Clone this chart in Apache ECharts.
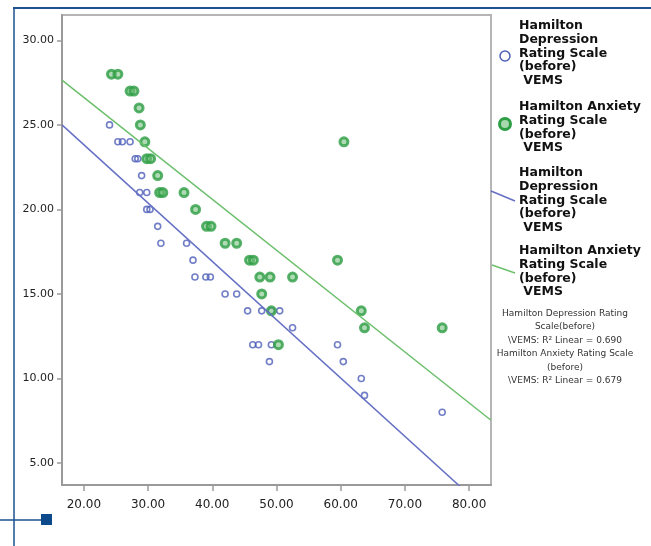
<!DOCTYPE html>
<html>
<head>
<meta charset="utf-8">
<script src="https://cdn.jsdelivr.net/npm/echarts@6/dist/echarts.min.js"></script>
<style>
html,body{margin:0;padding:0;background:#fff;}
#chart{width:651px;height:546px;}
</style>
</head>
<body>
<div id="chart"></div>
<script>
// Tick labels
const xTicks = [20, 30, 40, 50, 60, 70, 80];
const yTicks = [5, 10, 15, 20, 25, 30];

// Hamilton Depression Rating Scale (before) vs VEMS
const depX = [24, 25.3, 26, 27.2, 28, 28.4, 29, 28.7, 29.8, 29.8, 30.3, 31.5, 32, 36, 37, 37.3, 39, 39.7, 42, 43.8, 45.5, 47.7, 49.2, 50.5, 52.5, 46.3, 47.2, 49.2, 48.9, 59.5, 60.4, 63.2, 63.7, 75.8];
const depY = [25, 24, 24, 24, 23, 23, 22, 21, 21, 20, 20, 19, 18, 18, 17, 16, 16, 16, 15, 15, 14, 14, 14, 14, 13, 12, 12, 12, 11, 12, 11, 10, 9, 8];

// Hamilton Anxiety Rating Scale (before) vs VEMS
const anxX = [24.3, 25.3, 27.2, 27.8, 28.6, 28.8, 29.5, 29.8, 30.4, 31.5, 31.8, 32.3, 35.6, 37.4, 39.1, 39.8, 42, 43.8, 45.8, 46.4, 47.4, 49, 52.5, 47.7, 49.2, 50.3, 60.5, 59.5, 63.2, 63.7, 75.8];
const anxY = [28, 28, 27, 27, 26, 25, 24, 23, 23, 22, 21, 21, 21, 20, 19, 19, 18, 18, 17, 17, 16, 16, 16, 15, 14, 12, 24, 17, 14, 13, 13];

// Linear fit lines
const fitX = [16.6, 83.4];
const depFitY = [25.0, 1.95];
const anxFitY = [27.65, 7.53];

const seriesNames = [
  'Hamilton\nDepression\nRating Scale\n(before)\n VEMS',
  'Hamilton Anxiety\nRating Scale\n(before)\n VEMS'
];
const r2Text = 'Hamilton Depression Rating\nScale(before)\n\\VEMS: R\u00B2 Linear = 0.690\nHamilton Anxiety Rating Scale\n(before)\n\\VEMS: R\u00B2 Linear = 0.679';

const zip = (a, b) => a.map((v, i) => [v, b[i]]);

const blue = '#4f5fb8';
const green = '#2e9e45';
const blueLine = '#6670c4';
const greenLine = '#6cbf6c';
const navy = '#1d5291';
const FONT = '"DejaVu Sans", sans-serif';

const chart = echarts.init(document.getElementById('chart'), null, {renderer: 'canvas'});

const legendFont = 'bold 12.5px ' + FONT;

chart.setOption({
  animation: false,
  backgroundColor: '#fff',
  grid: {
    left: 62, top: 15, width: 429, height: 470,
    show: true, borderColor: '#b5b5b5', borderWidth: 2, backgroundColor: '#fff'
  },
  xAxis: {
    type: 'value', min: 16.6, max: 83.4,
    splitLine: {show: false},
    axisLine: {show: true, onZero: false, lineStyle: {color: '#9a9a9a', width: 2}},
    axisTick: {show: true, customValues: xTicks, length: 6, lineStyle: {color: '#9a9a9a', width: 1.5}},
    axisLabel: {customValues: xTicks, formatter: v => Number(v).toFixed(2), color: '#222', fontFamily: FONT, fontSize: 12, margin: 14}
  },
  yAxis: {
    type: 'value', min: 3.7, max: 31.5,
    splitLine: {show: false},
    axisLine: {show: true, onZero: false, lineStyle: {color: '#9a9a9a', width: 2}},
    axisTick: {show: true, customValues: yTicks, length: 5, lineStyle: {color: '#9a9a9a', width: 1.5}},
    axisLabel: {customValues: yTicks, formatter: v => Number(v).toFixed(2), color: '#222', fontFamily: FONT, fontSize: 11, margin: 8}
  },
  series: [
    {
      name: 'Depression', type: 'scatter', data: zip(depX, depY),
      symbol: 'circle', symbolSize: 6,
      itemStyle: {color: 'rgba(255,255,255,0)', borderColor: blue, borderWidth: 1.6}
    },
    {
      name: 'Anxiety', type: 'scatter', data: zip(anxX, anxY),
      symbol: 'circle', symbolSize: 8,
      itemStyle: {color: 'rgba(110,190,120,0.7)', borderColor: green, borderWidth: 3}
    },
    {
      name: 'Depression fit', type: 'line', data: zip(fitX, depFitY),
      symbol: 'none', clip: true, lineStyle: {color: blueLine, width: 1.5}
    },
    {
      name: 'Anxiety fit', type: 'line', data: zip(fitX, anxFitY),
      symbol: 'none', clip: true, lineStyle: {color: greenLine, width: 1.5}
    }
  ],
  graphic: [
    // page decorations
    {type: 'line', shape: {x1: 13, y1: 8, x2: 651, y2: 8}, style: {stroke: navy, lineWidth: 2}},
    {type: 'line', shape: {x1: 14, y1: 8, x2: 14, y2: 546}, style: {stroke: navy, lineWidth: 1.5}},
    {type: 'line', shape: {x1: 0, y1: 520, x2: 44, y2: 520}, style: {stroke: navy, lineWidth: 1.5}},
    {type: 'rect', shape: {x: 41, y: 514, width: 11, height: 11}, style: {fill: '#0d4a8c'}},
    // legend
    {type: 'circle', shape: {cx: 505, cy: 56, r: 5}, style: {fill: 'none', stroke: blue, lineWidth: 1.5}},
    {type: 'text', x: 519, y: 19, style: {text: seriesNames[0], font: legendFont, fill: '#111', lineHeight: 13.7, verticalAlign: 'top'}},
    {type: 'circle', shape: {cx: 505, cy: 124, r: 5.5}, style: {fill: 'rgba(110,190,120,0.6)', stroke: green, lineWidth: 3}},
    {type: 'text', x: 519, y: 100, style: {text: seriesNames[1], font: legendFont, fill: '#111', lineHeight: 13.7, verticalAlign: 'top'}},
    {type: 'line', shape: {x1: 491, y1: 191, x2: 515, y2: 201}, style: {stroke: blueLine, lineWidth: 1.5}},
    {type: 'text', x: 519, y: 166, style: {text: seriesNames[0], font: legendFont, fill: '#111', lineHeight: 13.7, verticalAlign: 'top'}},
    {type: 'line', shape: {x1: 492, y1: 265, x2: 515, y2: 273}, style: {stroke: greenLine, lineWidth: 1.5}},
    {type: 'text', x: 519, y: 244, style: {text: seriesNames[1], font: legendFont, fill: '#111', lineHeight: 13.7, verticalAlign: 'top'}},
    {type: 'text', x: 565, y: 307, style: {text: r2Text, font: '9px ' + FONT, fill: '#333', lineHeight: 13.4, align: 'center', verticalAlign: 'top'}}
  ]
});
</script>
</body>
</html>
